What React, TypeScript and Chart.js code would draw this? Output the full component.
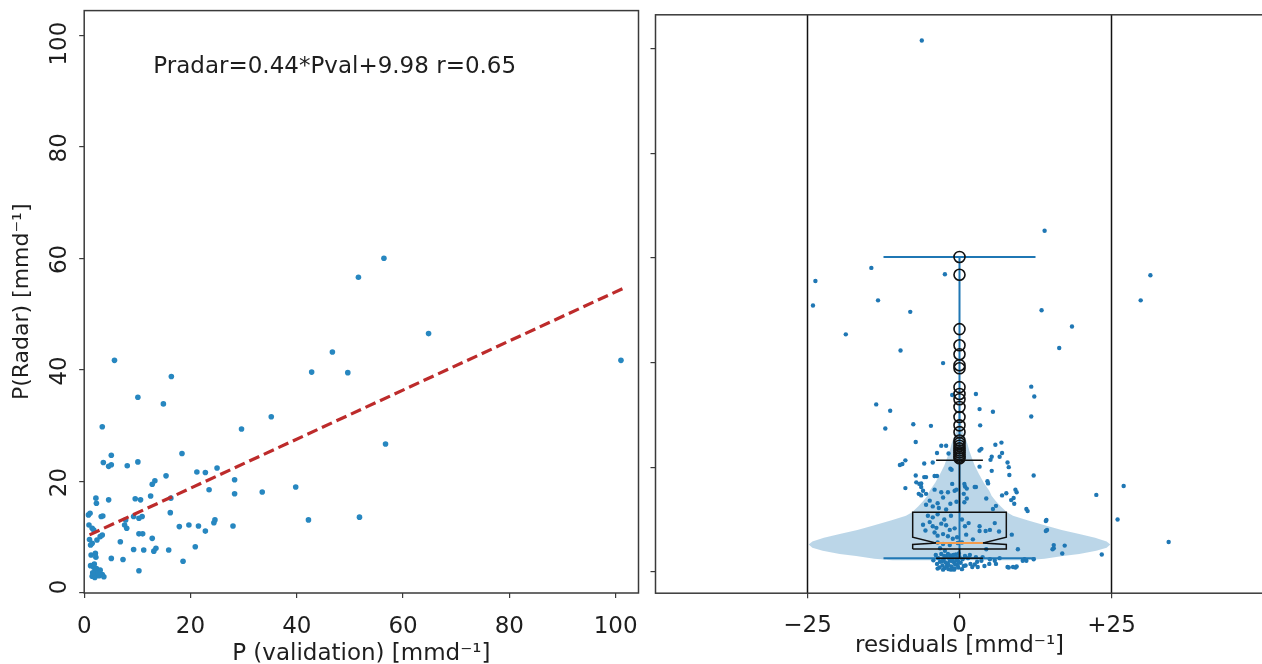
import { useEffect, useRef } from 'react';
import { Chart, registerables } from 'chart.js';

Chart.register(...registerables);

const FONT = 'DejaVu Sans';
const TEXT = '#1e1e1e';
const SPINE = '#3a3a3a';

// ---------- left panel: radar vs. validation ----------
const pValidation = [
  1.2, 1.8, 2.1, 2.4, 1.5, 2.0, 2.8, 3.4, 3.7, 3.0, 2.3, 1.6, 2.6, 1.9,
  1.3, 2.1, 2.2, 1.2, 1.5, 2.4, 1.5, 1.8, 3.0, 3.4, 0.8, 1.1, 3.2, 3.5,
  2.2, 2.3, 4.6, 0.9, 1.0, 3.6, 4.6, 5.1, 5.1, 3.4, 5.7, 8.1, 10.1, 10.1,
  14.9, 16.4, 18.4, 5.1, 7.3, 6.8, 7.8, 7.6, 8.0, 9.3, 10.3, 10.9, 9.6,
  10.6, 10.3, 11.0, 12.8, 9.3, 11.2, 13.1, 13.5, 15.9, 10.3, 12.5, 12.8,
  13.3, 15.4, 16.2, 16.3, 17.9, 19.7, 21.5, 20.9, 18.6, 21.2, 22.8, 23.5,
  25.0, 28.3, 28.3, 22.8, 24.4, 24.6, 28.0, 29.6, 33.5, 35.2, 39.8, 42.2,
  42.8, 46.7, 49.6, 51.6, 51.8, 56.4, 56.7, 64.8, 101.0,
];
const pRadar = [
  4.9, 4.6, 3.8, 3.2, 3.0, 2.8, 3.1, 3.3, 2.9, 4.1, 4.4, 3.6, 3.6, 5.2,
  6.8, 7.1, 6.4, 8.6, 8.9, 9.5, 11.6, 11.3, 10.1, 10.4, 14.0, 14.3, 13.7, 13.8,
  17.0, 16.1, 16.7, 12.2, 9.6, 23.4, 22.7, 23.0, 24.7, 29.8, 41.7, 22.8, 23.5, 35.1,
  33.9, 38.8, 25.0, 6.2, 6.0, 9.2, 13.1, 12.2, 11.6, 13.7, 13.4, 13.7, 16.9,
  16.7, 10.6, 10.6, 9.8, 7.8, 7.7, 7.5, 8.0, 7.7, 4.0, 17.4, 19.5,
  20.1, 21.0, 14.4, 17.0, 11.9, 12.2, 12.0, 8.3, 5.7, 21.7, 21.6, 18.5,
  22.4, 20.3, 17.8, 11.1, 12.6, 13.1, 12.0, 29.4, 18.1, 31.6, 19.0, 13.1,
  39.6, 43.2, 39.5, 56.6, 13.6, 60.0, 26.7, 46.5, 41.7,
];
const fitSlope = 0.44;
const fitIntercept = 9.98;
const fitR = 0.65;
const fitRange = [1.0, 101.5];
const leftXTicks = [0, 20, 40, 60, 80, 100];
const leftYTicks = [0, 20, 40, 60, 80, 100];
const leftXMax = 104.3;
const leftYMax = 104.4;
const equationAnchor = [13.0, 93.3];

// ---------- right panel: residual distribution ----------
const residuals = [
  // sparse upper points
  -6.2, 14.0, -14.5, -2.4, -23.7, -24.1, -13.4, -8.1, 13.5, 31.4, 29.8, -18.7, 18.5,
  -9.7, 16.4, -2.7, 11.8, 12.3, 2.7, -1.2, -13.7, -11.4, 3.3, 5.5, 11.8, -12.2, -7.6,
  -4.7, 3.4, 27.0, 22.5, 26.0, 34.4, 23.4,
  // 15 .. 25
  -7.2, -3.0, -2.2, 3.6, 5.9, 6.9, 5.3, 7.0, -9.4, -8.9, -9.8, -5.8, -4.4, -3.7, -1.8,
  -1.5, -1.3, 5.1, 7.9, 6.6, 3.3, 3.3, -7.2, -5.8, -5.5, -4.1, -3.7, 12.2, 8.2, 5.3,
  8.1, -8.9, -6.6, -6.3, -6.0, -6.7, -4.1, -3.0, -1.9, -0.5, -1.2, -0.8, 0.9, 0.8, 1.2,
  2.7, 4.6, 4.7, 2.5, 9.4, 9.2, -7.1, -6.3,
  // 10 .. 15
  -4.9, -3.6, -2.7, -1.5, -0.5, -5.5, -4.4, -3.4, -2.2, 0.8, 1.2, 0.7, 4.4, 5.5, 6.0,
  7.0, 7.7, 8.5, 8.9, 9.0, 11.0, 11.2, -6.3, -5.5,
  // inside the box
  -5.2, -4.4, -3.6, -2.5, -1.4, -4.9, -4.4, -3.8, -3.0, -2.2, -1.6, -0.8, -4.1, -3.6,
  -2.7, -1.9, -1.1, -0.4, 0.4, 0.9, 1.5, 1.1, 3.3, 4.3, 5.0, 5.8, 6.5, 3.3, -3.6, -2.7,
  -1.6, -0.3, 0.4, -6.0, -5.6, 2.2,
  // right of the box
  14.3, 14.4, 14.2, 14.2, 8.6, 15.5, 15.5, 17.3, 16.9, 15.3, 9.6, 4.4,
  // low values
  10.7, 12.2, 5.0, 5.8, 6.6, 7.9, 8.8, 9.4, 8.1, 9.2, 10.4, 11.0, 6.0, 4.9, 3.6, 4.1,
  1.0, 1.8, 2.9, 3.8,
  -3.9, -3.5, -3.2, -3.0, -2.8, -2.6, -2.4, -2.2, -2.0, -1.8, -1.6, -1.5, -1.3, -1.1,
  -0.9, -0.8, -0.6, -0.5, -0.3, -0.2, 0.0, 0.2, 0.4, 0.5, 0.7, 0.9, -3.7, -3.3, -2.9,
  -2.5, -2.1, -1.7, -1.4, -1.0, -0.7, -0.4, -2.3, -1.9, -1.2, -0.1, 1.4, 2.1, 2.5,
  -4.3, -3.6, -2.7, -1.8, -0.9, -0.2, 1.7, 3.0, 2.7, -3.2, -2.4,
];
const radarLevels = [
  101.6, 65.2, 58.1, 56.9, 55.6, 50.9, 51.9, 49.7, 50.0, 56.7, 51.9, 45.4, 46.9,
  42.3, 42.8, 39.9, 35.4, 33.5, 34.0, 33.8, 32.0, 30.8, 31.1, 30.6, 29.7, 27.4, 28.2,
  27.9, 28.0, 16.4, 14.7, 10.0, 5.7, 3.3,
  24.8, 24.1, 24.1, 23.5, 24.3, 24.7, 22.0, 22.7, 20.6, 21.3, 20.4, 20.7, 20.9, 22.7, 22.6,
  19.7, 19.5, 21.4, 20.9, 22.0, 20.1, 23.2, 18.4, 18.1, 18.1, 18.3, 18.3, 18.4, 18.5, 19.3,
  20.0, 16.0, 16.8, 16.2, 15.5, 14.9, 15.7, 15.2, 15.2, 15.7, 16.8, 15.5, 16.3, 16.8, 15.9,
  16.2, 17.3, 16.9, 16.2, 15.2, 15.7, 17.1, 16.9,
  13.6, 13.1, 14.2, 13.0, 13.4, 12.8, 12.5, 12.2, 11.9, 13.3, 14.0, 14.9, 14.0, 12.0, 12.6,
  14.6, 15.0, 13.7, 14.1, 13.0, 12.0, 11.6, 14.6, 14.9,
  10.7, 10.4, 11.0, 10.0, 10.7, 9.5, 8.7, 8.4, 9.2, 8.9, 8.0, 8.3, 7.5, 6.9,
  7.2, 6.8, 6.3, 6.6, 10.0, 8.7, 9.3, 7.1, 8.7, 7.8, 8.0, 9.3, 7.7, 7.8, 5.6, 5.3,
  5.1, 5.5, 5.6, 9.0, 7.9, 6.2,
  9.9, 8.0, 9.7, 7.8, 7.1, 5.1, 4.5, 5.0, 3.5, 4.3, 4.3, 4.3,
  2.4, 2.4, 2.4, 2.1, 2.6, 0.9, 0.9, 1.0, 0.8, 0.8, 2.1, 2.1, 1.5, 1.5, 2.1, 1.1,
  1.2, 1.5, 1.9, 2.8,
  3.2, 2.6, 1.9, 3.4, 1.2, 2.3, 0.7, 2.9, 1.6, 0.5, 2.1, 3.1, 1.0, 2.6,
  1.8, 0.6, 3.3, 2.2, 1.3, 0.8, 2.8, 1.7, 0.5, 2.4, 1.1, 3.0, 1.5, 0.8, 2.0,
  3.0, 1.1, 2.6, 0.4, 3.2, 1.4, 2.7, 1.8, 3.4, 2.0, 3.5, 2.6, 0.9, 1.4,
  2.2, 0.6, 0.4, 1.3, 0.4, 2.0, 3.2, 0.9, 2.8, 4.5, 4.0,
];

// kernel-density outline of the violin (half width in residual units)
const violinLevels = [
  2.2, 2.5, 3.0, 3.4, 4.0, 4.6, 5.2, 5.8, 6.5, 7.2, 8.0, 8.8, 9.8, 10.7, 11.4,
  12.5, 13.5, 14.5, 15.5, 17.0, 18.7, 20.3, 21.9, 23.2, 24.5, 25.8, 27.0, 28.5,
  30.5, 34.0,
];
const violinHalfWidths = [
  11.0, 14.0, 17.0, 19.7, 22.5, 24.2, 24.8, 24.2, 22.3, 19.7, 16.8, 14.3, 11.3, 8.8, 7.8,
  6.8, 6.0, 5.3, 4.9, 4.0, 3.2, 2.5, 2.0, 1.6, 1.3, 0.9, 0.5, 0.25,
  0.1, 0.0,
];
const violinMin = 2.6;
const violinMax = 60.2;
const violinCapHalf = 12.5;

// notched box plot
const boxQ1 = 4.35;
const boxQ3 = 11.4;
const boxMedian = 5.5;
const notchLow = 5.2;
const notchHigh = 6.6;
const whiskerLow = 2.6;
const whiskerHigh = 21.3;
const boxHalfWidth = 7.7;
const capHalfWidth = 3.85;
const fliers = [
  60.2, 56.8, 46.4, 43.3, 41.6, 39.5, 38.9, 35.3, 34.0, 33.0, 31.5, 29.6, 28.0, 26.7,
  25.1, 24.6, 24.1, 23.6, 23.2, 22.8, 22.4, 22.0, 21.7,
];

const referenceLines = [-25, 25];
const rightXTickValues = [-25, 0, 25];
const rightXTickLabels = ['\u221225', '0', '+25'];
const rightYTicks = [0, 20, 40, 60, 80, 100];
const rightXRange = [-50, 50];
const rightYRange = [-4.1, 106.5];

// ---------- helpers ----------
const framePlugin = {
  id: 'frame',
  afterDatasetsDraw(chart: any) {
    const { ctx, chartArea: a } = chart;
    ctx.save();
    ctx.strokeStyle = SPINE;
    ctx.lineWidth = 1.5;
    ctx.strokeRect(a.left, a.top, a.right - a.left, a.bottom - a.top);
    ctx.restore();
  },
};

const equationText = `Pradar=${fitSlope}*Pval+${fitIntercept} r=${fitR}`;
const equationPlugin = {
  id: 'equation',
  afterDatasetsDraw(chart: any) {
    const { ctx, scales } = chart;
    ctx.save();
    ctx.font = `23px "${FONT}"`;
    ctx.fillStyle = TEXT;
    ctx.textAlign = 'left';
    ctx.textBaseline = 'alphabetic';
    ctx.fillText(
      equationText,
      scales.x.getPixelForValue(equationAnchor[0]),
      scales.y.getPixelForValue(equationAnchor[1])
    );
    ctx.restore();
  },
};

const tickGrid = {
  display: true,
  drawOnChartArea: false,
  drawTicks: true,
  tickLength: 5,
  color: SPINE,
  lineWidth: 1.2,
};

// fixes an axis' thickness and keeps its labels from pushing the plot area around
const fixSize = (prop: 'width' | 'height', size: number) => (s: any) => {
  s[prop] = size;
  s.paddingLeft = 0;
  s.paddingRight = 0;
  s.paddingTop = 0;
  s.paddingBottom = 0;
};

const segment = (x0: number, y0: number, x1: number, y1: number) => [
  { x: x0, y: y0 },
  { x: x1, y: y1 },
];

const lineSet = (data: any[], color: string, width: number, order: number, extra: any = {}) => ({
  data,
  showLine: true,
  borderColor: color,
  borderWidth: width,
  pointRadius: 0,
  fill: false,
  tension: 0,
  order,
  ...extra,
});

function LeftPanel() {
  const ref = useRef<HTMLCanvasElement | null>(null);
  useEffect(() => {
    if (!ref.current) return;
    const points = pValidation.map((x, i) => ({ x, y: pRadar[i] }));
    const fitLine = fitRange.map((x) => ({ x, y: fitSlope * x + fitIntercept }));
    const chart = new Chart(ref.current, {
      type: 'scatter',
      data: {
        datasets: [
          lineSet(fitLine, '#bd2b2b', 3.2, 0, { borderDash: [11, 5] }),
          {
            data: points,
            pointRadius: 2.8,
            pointBackgroundColor: '#2787c0',
            pointBorderWidth: 0,
            order: 1,
          } as any,
        ],
      },
      options: {
        animation: false,
        responsive: false,
        devicePixelRatio: 1,
        events: [],
        layout: { autoPadding: false, padding: { left: 0, right: 9.5, top: 10.6, bottom: 0 } },
        plugins: { legend: { display: false }, tooltip: { enabled: false } },
        scales: {
          x: {
            type: 'linear',
            min: 0,
            max: leftXMax,
            afterBuildTicks: (s: any) => {
              s.ticks = leftXTicks.map((value) => ({ value }));
            },
            afterFit: fixSize('height', 71),
            ticks: { font: { family: FONT, size: 23 }, color: TEXT, padding: 15, maxRotation: 0, autoSkip: false },
            grid: tickGrid,
            border: { display: false },
            title: {
              display: true,
              text: 'P (validation) [mmd\u207B\u00B9]',
              font: { family: FONT, size: 23 },
              color: TEXT,
              padding: { top: 0, bottom: -4 },
            },
          },
          y: {
            type: 'linear',
            min: 0,
            max: leftYMax,
            afterBuildTicks: (s: any) => {
              s.ticks = leftYTicks.map((value) => ({ value }));
            },
            afterFit: fixSize('width', 84.2),
            ticks: {
              font: { family: FONT, size: 23 },
              color: TEXT,
              minRotation: 90,
              maxRotation: 90,
              crossAlign: 'near',
              padding: 19,
              labelOffset: -13.5,
              autoSkip: false,
            },
            grid: tickGrid,
            border: { display: false },
            title: {
              display: true,
              text: 'P(Radar) [mmd\u207B\u00B9]',
              font: { family: FONT, size: 22 },
              color: TEXT,
              padding: { top: 9, bottom: 0 },
            },
          },
        },
      } as any,
      plugins: [framePlugin, equationPlugin],
    });
    return () => chart.destroy();
  }, []);
  return (
    <canvas
      ref={ref}
      width={648}
      height={664}
      style={{ position: 'absolute', left: 0, top: 0, width: 648, height: 664, display: 'block' }}
    />
  );
}

function RightPanel() {
  const ref = useRef<HTMLCanvasElement | null>(null);
  useEffect(() => {
    if (!ref.current) return;
    const dots = residuals.map((x, i) => ({ x, y: radarLevels[i] }));
    const violinRight = violinLevels.map((y, i) => ({ x: violinHalfWidths[i], y }));
    const violinLeft = violinLevels.map((y, i) => ({ x: -violinHalfWidths[i], y })).reverse();
    const boxOutline = [
      { x: -boxHalfWidth, y: boxQ1 },
      { x: boxHalfWidth, y: boxQ1 },
      { x: boxHalfWidth, y: notchLow },
      { x: capHalfWidth, y: boxMedian },
      { x: boxHalfWidth, y: notchHigh },
      { x: boxHalfWidth, y: boxQ3 },
      { x: -boxHalfWidth, y: boxQ3 },
      { x: -boxHalfWidth, y: notchHigh },
      { x: -capHalfWidth, y: boxMedian },
      { x: -boxHalfWidth, y: notchLow },
      { x: -boxHalfWidth, y: boxQ1 },
    ];
    const [yMin, yMax] = rightYRange;
    const chart = new Chart(ref.current, {
      type: 'scatter',
      data: {
        datasets: [
          {
            data: fliers.map((y) => ({ x: 0, y })),
            pointRadius: 5.5,
            pointBackgroundColor: 'rgba(0,0,0,0)',
            pointBorderColor: '#111',
            pointBorderWidth: 1.6,
            order: 0,
          } as any,
          lineSet(segment(-capHalfWidth, boxMedian, capHalfWidth, boxMedian), '#f39a4a', 2, 1),
          lineSet(boxOutline, '#111', 1.5, 2),
          lineSet(segment(0, boxQ3, 0, whiskerHigh), '#111', 1.5, 2),
          lineSet(segment(0, boxQ1, 0, whiskerLow), '#111', 1.5, 2),
          lineSet(segment(-capHalfWidth, whiskerHigh, capHalfWidth, whiskerHigh), '#111', 1.5, 2),
          lineSet(segment(-capHalfWidth, whiskerLow, capHalfWidth, whiskerLow), '#111', 1.5, 2),
          lineSet(segment(0, violinMin, 0, violinMax), '#1f77b4', 2, 3),
          lineSet(segment(-violinCapHalf, violinMin, violinCapHalf, violinMin), '#1f77b4', 2, 3),
          lineSet(segment(-violinCapHalf, violinMax, violinCapHalf, violinMax), '#1f77b4', 2, 3),
          {
            data: dots,
            pointRadius: 2.2,
            pointBackgroundColor: '#1f77b4',
            pointBorderWidth: 0,
            order: 4,
          } as any,
          lineSet([...violinRight, ...violinLeft], 'rgba(31,119,180,0)', 0, 5, {
            fill: 'shape',
            backgroundColor: 'rgba(31,119,180,0.3)',
          }),
          ...referenceLines.map((x) => lineSet(segment(x, yMin, x, yMax), '#111', 1.5, 6)),
        ],
      },
      options: {
        animation: false,
        responsive: false,
        devicePixelRatio: 1,
        events: [],
        layout: { autoPadding: false, padding: { left: 0, right: 4.5, top: 14.8, bottom: 0 } },
        plugins: { legend: { display: false }, tooltip: { enabled: false } },
        scales: {
          x: {
            type: 'linear',
            min: rightXRange[0],
            max: rightXRange[1],
            afterBuildTicks: (s: any) => {
              s.ticks = rightXTickValues.map((value) => ({ value }));
            },
            afterFit: fixSize('height', 70.8),
            ticks: {
              font: { family: FONT, size: 23 },
              color: TEXT,
              padding: 14,
              maxRotation: 0,
              autoSkip: false,
              callback: (value: number) => rightXTickLabels[rightXTickValues.indexOf(value)],
            },
            grid: tickGrid,
            border: { display: false },
            title: {
              display: true,
              text: 'residuals [mmd\u207B\u00B9]',
              font: { family: FONT, size: 23 },
              color: TEXT,
              padding: { top: 0, bottom: 4 },
            },
          },
          y: {
            type: 'linear',
            min: yMin,
            max: yMax,
            afterBuildTicks: (s: any) => {
              s.ticks = rightYTicks.map((value) => ({ value }));
            },
            afterFit: fixSize('width', 7.5),
            ticks: { display: false },
            grid: tickGrid,
            border: { display: false },
          },
        },
      } as any,
      plugins: [framePlugin],
    });
    return () => chart.destroy();
  }, []);
  return (
    <canvas
      ref={ref}
      width={620}
      height={664}
      style={{ position: 'absolute', left: 648, top: 0, width: 620, height: 664, display: 'block' }}
    />
  );
}

export default function App() {
  return (
    <div
      style={{
        position: 'absolute',
        left: 0,
        top: 0,
        width: 1262,
        height: 664,
        overflow: 'hidden',
        background: '#ffffff',
      }}
    >
      <LeftPanel />
      <RightPanel />
    </div>
  );
}
